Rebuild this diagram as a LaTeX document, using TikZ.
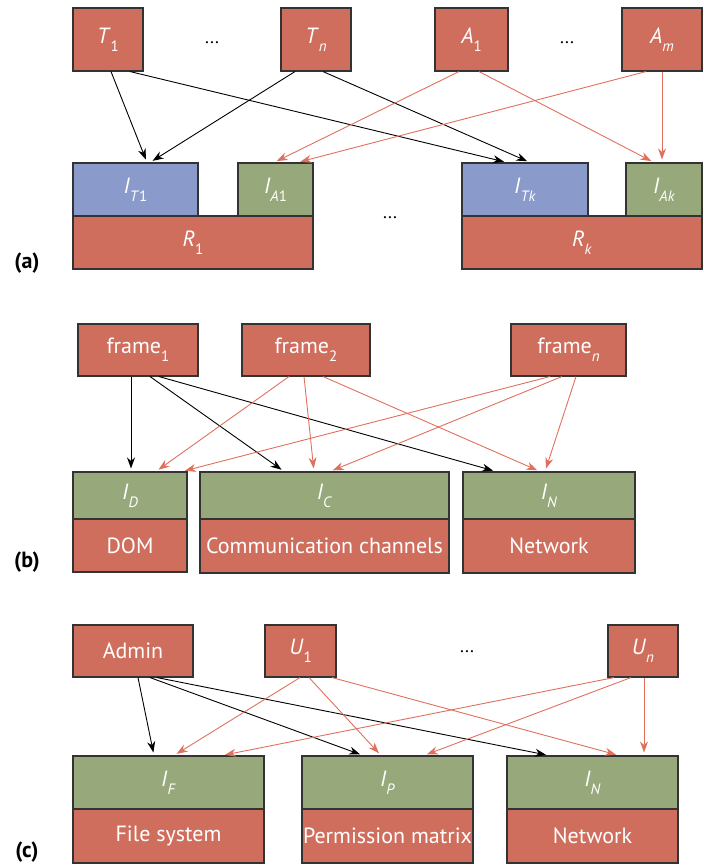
\documentclass[tikz,border=0pt]{standalone}
\usepackage{fontspec}
\setmainfont{PT Sans}
\usetikzlibrary{arrows.meta}
\definecolor{boxred}{HTML}{D06E5E}
\definecolor{boxblue}{HTML}{8A9ACB}
\definecolor{boxgreen}{HTML}{97A97A}
\definecolor{edgegray}{HTML}{333333}
\definecolor{arrred}{HTML}{E0705E}
\newcommand\subsc[2]{#1\raisebox{-0.36em}{\fontsize{15}{15}\selectfont #2}}
\newcommand\vI[1]{\subsc{\textit{I}}{#1}}
\tikzset{
  x=1pt, y=-1pt,
  cell/.style={draw=edgegray, line width=1.1pt, text=white, inner sep=0pt,
    font=\fontsize{22}{24}\selectfont, anchor=center},
  redbox/.style={cell, fill=boxred},
  bluebox/.style={cell, fill=boxblue},
  greenbox/.style={cell, fill=boxgreen},
  blk/.style={draw=black, line width=0.9pt, shorten >=3pt,
    -{Stealth[length=11pt,width=8pt,inset=3.5pt]}},
  rdd/.style={draw=arrred, line width=0.9pt, shorten >=3pt,
    -{Stealth[length=11pt,width=8pt,inset=3.5pt]}},
  dots/.style={font=\fontsize{18}{18}\selectfont},
  tag/.style={font=\fontsize{22}{22}\selectfont\bfseries, text=black}
}
\newcommand\cellbox[7]{% style, name, x1, y1, x2, y2, text
  \node[#1, minimum width={#5-#3}, minimum height={#6-#4}] (#2) at ({(#3+#5)/2},{(#4+#6)/2}) {#7};}
\begin{document}
\begin{tikzpicture}
\useasboundingbox (0,0) rectangle (704,865);

% ---------- (a) ----------
\cellbox{redbox}{T1}{73}{8}{143}{71}{\subsc{\textit{T}}{1}}
\cellbox{redbox}{Tn}{281}{8}{351}{71}{\subsc{\textit{T}}{\textit{n}}}
\cellbox{redbox}{A1}{435}{8}{508}{71}{\subsc{\textit{A}}{1}}
\cellbox{redbox}{Am}{622}{8}{702}{71}{\subsc{\textit{A}}{\textit{m}}}
\node[dots] (da1) at (212,43) {...};
\node[dots] (da2) at (567,43) {...};

\cellbox{redbox}{R1}{73}{216}{313}{269}{\subsc{\textit{R}}{1}}
\cellbox{bluebox}{IT1}{73}{163}{198}{216}{\vI{\textit{T}1}}
\cellbox{greenbox}{IA1}{238}{163}{313}{216}{\vI{\textit{A}1}}
\node[dots] (da3) at (390,218) {...};
\cellbox{redbox}{Rk}{462}{216}{702}{269}{\subsc{\textit{R}}{\textit{k}}}
\cellbox{bluebox}{ITk}{462}{163}{588}{216}{\vI{\textit{Tk}}}
\cellbox{greenbox}{IAk}{626}{163}{702}{216}{\vI{\textit{Ak}}}
\node[tag] (ta) at (27,263) {(a)};

\draw[blk] ([xshift=3pt]T1.south) -- ([xshift=11.5pt]IT1.north);
\draw[blk] ([xshift=22pt]T1.south) -- ([xshift=-18pt]ITk.north);
\draw[blk] ([xshift=-21pt]Tn.south) -- ([xshift=14.5pt]IT1.north);
\draw[blk] ([xshift=7pt]Tn.south) -- ([xshift=5pt]ITk.north);
\draw[rdd] ([xshift=-12.5pt]A1.south) -- ([xshift=-1.5pt]IA1.north);
\draw[rdd] ([xshift=7.5pt]A1.south) -- ([xshift=-10pt]IAk.north);
\draw[rdd] ([xshift=-16pt]Am.south) -- ([xshift=22pt]IA1.north);
\draw[rdd] (Am.south) -- ([xshift=-2pt]IAk.north);

% ---------- (b) ----------
\cellbox{redbox}{F1}{78}{324}{198}{376}{\subsc{frame}{1}}
\cellbox{redbox}{F2}{242}{324}{370}{376}{\subsc{frame}{2}}
\cellbox{redbox}{Fn}{511}{324}{626}{376}{\subsc{frame}{\textit{n}}}

\cellbox{greenbox}{ID}{73}{472}{187}{519}{\vI{\textit{D}}}
\cellbox{redbox}{DOM}{73}{519}{187}{572}{DOM}
\cellbox{greenbox}{IC}{200}{472}{449}{519}{\vI{\textit{C}}}
\cellbox{redbox}{CC}{200}{519}{449}{573}{Communication channels}
\cellbox{greenbox}{INb}{463}{472}{635}{519}{\vI{\textit{N}}}
\cellbox{redbox}{NETb}{463}{519}{635}{573}{Network}
\node[tag] (tb) at (27,562) {(b)};

\draw[blk] ([xshift=-7pt]F1.south) -- ([xshift=1pt]ID.north);
\draw[blk] ([xshift=12pt]F1.south) -- ([xshift=-40.5pt]IC.north);
\draw[blk] ([xshift=21pt]F1.south) -- ([xshift=-53pt]INb.north);
\draw[rdd] ([xshift=-17pt]F2.south) -- ([xshift=26pt]ID.north);
\draw[rdd] ([xshift=-2pt]F2.south) -- ([xshift=-10.5pt]IC.north);
\draw[rdd] ([xshift=17pt]F2.south) -- ([xshift=-9pt]INb.north);
\draw[rdd] ([xshift=-18.5pt]Fn.south) -- ([xshift=52pt]ID.north);
\draw[rdd] ([xshift=-6.5pt]Fn.south) -- ([xshift=5.5pt]IC.north);
\draw[rdd] ([xshift=7.5pt]Fn.south) -- ([xshift=-4pt]INb.north);

% ---------- (c) ----------
\cellbox{redbox}{Adm}{73}{625}{193}{677}{Admin}
\cellbox{redbox}{U1}{265}{625}{336}{677}{\subsc{\textit{U}}{1}}
\cellbox{redbox}{Un}{608}{625}{678}{677}{\subsc{\textit{U}}{\textit{n}}}
\node[dots] (dc) at (467,652) {...};

\cellbox{greenbox}{IF}{73}{756}{264}{809}{\vI{\textit{F}}}
\cellbox{redbox}{FS}{73}{809}{264}{863}{File system}
\cellbox{greenbox}{IP}{302}{756}{473}{809}{\vI{\textit{P}}}
\cellbox{redbox}{PM}{302}{809}{473}{863}{Permission matrix}
\cellbox{greenbox}{INc}{507}{756}{678}{809}{\vI{\textit{N}}}
\cellbox{redbox}{NETc}{507}{809}{678}{863}{Network}
\node[tag] (tc) at (27,852) {(c)};

\draw[blk] ([xshift=5pt]Adm.south) -- ([xshift=-14.5pt]IF.north);
\draw[blk] ([xshift=17pt]Adm.south) -- ([xshift=-24.5pt]IP.north);
\draw[blk] ([xshift=24pt]Adm.south) -- ([xshift=-43.5pt]INc.north);
\draw[rdd] ([xshift=-0.5pt]U1.south) -- ([xshift=5.5pt]IF.north);
\draw[rdd] ([xshift=8.5pt]U1.south) -- ([xshift=-6.5pt]IP.north);
\draw[rdd] ([xshift=31.5pt]U1.south) -- ([xshift=26.5pt]INc.north);
\draw[rdd] ([xshift=-29pt]Un.south) -- ([xshift=53.5pt]IF.north);
\draw[rdd] ([xshift=-12pt]Un.south) -- ([xshift=36.5pt]IP.north);
\draw[rdd] ([xshift=1pt]Un.south) -- ([xshift=51.5pt]INc.north);
\end{tikzpicture}
\end{document}
